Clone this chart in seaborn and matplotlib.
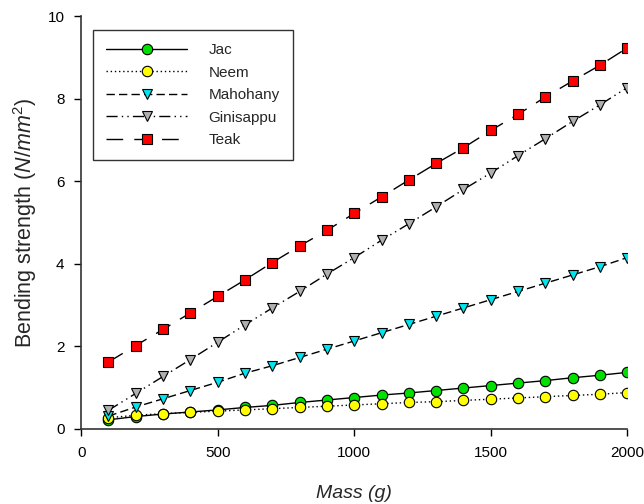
import numpy as np
import pandas as pd
import matplotlib
matplotlib.use("Agg")
import matplotlib.pyplot as plt
import seaborn as sns

# Data: bending strength (N/mm^2) vs mass (g)
mass = [100, 200, 300, 400, 500, 600, 700, 800, 900, 1000,
        1100, 1200, 1300, 1400, 1500, 1600, 1700, 1800, 1900, 2000]
jac = [0.22, 0.30, 0.36, 0.41, 0.46, 0.52, 0.57, 0.64, 0.70, 0.76,
       0.82, 0.87, 0.93, 0.99, 1.05, 1.11, 1.17, 1.24, 1.30, 1.37]
neem = [0.27, 0.33, 0.37, 0.40, 0.43, 0.46, 0.49, 0.52, 0.55, 0.58,
        0.61, 0.64, 0.66, 0.69, 0.72, 0.75, 0.78, 0.81, 0.84, 0.88]
mahohany = [0.31, 0.53, 0.73, 0.93, 1.13, 1.35, 1.53, 1.73, 1.93, 2.13,
            2.33, 2.53, 2.73, 2.93, 3.13, 3.33, 3.53, 3.73, 3.93, 4.15]
ginisappu = [0.45, 0.86, 1.27, 1.68, 2.10, 2.52, 2.93, 3.33, 3.75, 4.15,
             4.57, 4.97, 5.38, 5.80, 6.20, 6.62, 7.03, 7.45, 7.85, 8.27]
teak = [1.62, 2.02, 2.41, 2.81, 3.21, 3.61, 4.03, 4.43, 4.81, 5.22,
        5.62, 6.03, 6.43, 6.81, 7.23, 7.62, 8.04, 8.43, 8.81, 9.23]

names = ["Jac", "Neem", "Mahohany", "Ginisappu", "Teak"]
values = [jac, neem, mahohany, ginisappu, teak]
face_colors = ["#00e000", "#ffff00", "#00e5ee", "#b0b0b0", "#ff0000"]
marker_shapes = ["o", "o", "v", "v", "s"]
line_styles = ["-", (0, (1, 2)), (0, (6, 3)), (0, (8, 3, 1, 3, 1, 3)), (0, (12, 8))]

df = pd.DataFrame({
    "mass": np.tile(mass, len(names)),
    "strength": np.concatenate(values),
    "wood": np.repeat(names, len(mass)),
})

sns.set_theme(style="ticks")
plt.rcParams["font.family"] = ["Liberation Sans", "DejaVu Sans"]
plt.rcParams["mathtext.fontset"] = "custom"
plt.rcParams["mathtext.rm"] = "Liberation Sans"
plt.rcParams["mathtext.it"] = "Liberation Sans:italic"

fig = plt.figure(figsize=(6.44, 5.04), dpi=100)
ax = fig.add_axes([0.126, 0.149, 0.848, 0.819])

for name, fc, mk, ls in zip(names, face_colors, marker_shapes, line_styles):
    sns.lineplot(data=df[df["wood"] == name], x="mass", y="strength",
                 ax=ax, color="black", linewidth=1.0, linestyle=ls,
                 marker=mk, markersize=7.5, markerfacecolor=fc,
                 markeredgecolor="black", markeredgewidth=0.8,
                 label=name, zorder=3)

ax.set_xlim(0, 2000)
ax.set_ylim(0, 10)
ax.set_xticks([0, 500, 1000, 1500, 2000])
ax.set_yticks([0, 2, 4, 6, 8, 10])
ax.tick_params(direction="out", length=5, width=1, labelsize=11, colors="black", pad=7)
for side in ["top", "right"]:
    ax.spines[side].set_visible(False)
for side in ["left", "bottom"]:
    ax.spines[side].set_color("#333333")
    ax.spines[side].set_linewidth(1.2)

ax.set_xlabel("Mass (g)", fontsize=14, fontstyle="italic", labelpad=18)
ax.set_ylabel(r"Bending strength ($\mathit{N/mm^2}$)", fontsize=15.5, labelpad=6)

leg = ax.legend(loc="upper left", bbox_to_anchor=(0.022, 0.966), frameon=True,
                fancybox=False, edgecolor="black", fontsize=11,
                handlelength=5.3, handletextpad=1.4, borderpad=0.85,
                labelspacing=0.56, borderaxespad=0.0)
leg.get_frame().set_linewidth(1.0)

fig.savefig("out.png", dpi=100)
